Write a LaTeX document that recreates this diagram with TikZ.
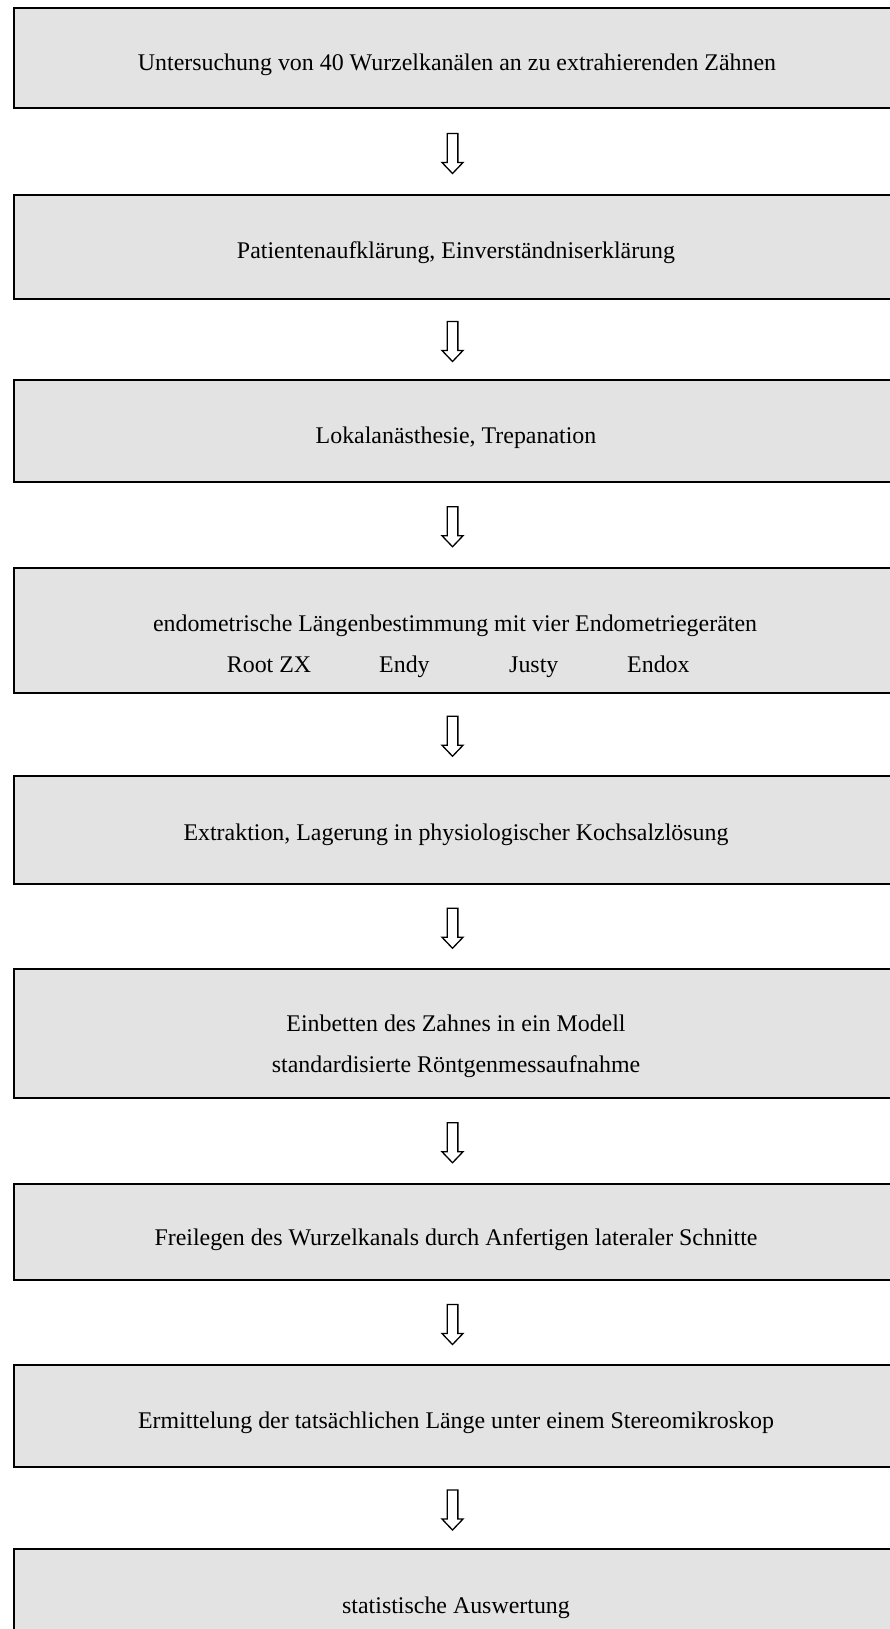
\documentclass[tikz,border=0pt]{standalone}
\usepackage{fontspec}
\setmainfont{Liberation Serif}
\usetikzlibrary{calc}
\definecolor{boxfill}{RGB}{227,227,227}
\tikzset{
  stepbox/.style={draw=black, line width=2pt, fill=boxfill, minimum width=880pt, inner sep=0pt, anchor=north west},
  lbl/.style={font=\fontsize{23.9pt}{28pt}\selectfont, anchor=base, inner sep=0pt},
  lblw/.style={lbl, anchor=base west},
  hollowarrow/.pic={\draw[line width=1.3pt, fill=white, line join=miter] (-5.35,-20) -- (5.35,-20) -- (5.35,9) -- (10.5,9) -- (0,20) -- (-10.5,9) -- (-5.35,9) -- cycle;}
}
\begin{document}
\begin{tikzpicture}[x=1pt,y=-1pt]
\useasboundingbox (0,0) rectangle (890,1629);
\clip (0,0) rectangle (890,1629);
\fill[white] (0,0) rectangle (890,1629);
% boxes
\node[stepbox, minimum height=100pt] (b1) at (12.5,7) {};
\node[stepbox, minimum height=104pt] (b2) at (12.5,194) {};
\node[stepbox, minimum height=102pt] (b3) at (12.5,379) {};
\node[stepbox, minimum height=125pt] (b4) at (12.5,566.5) {};
\node[stepbox, minimum height=108pt] (b5) at (12.5,775) {};
\node[stepbox, minimum height=129pt] (b6) at (12.5,967.5) {};
\node[stepbox, minimum height=96pt]  (b7) at (12.5,1183) {};
\node[stepbox, minimum height=102pt] (b8) at (12.5,1364) {};
\node[stepbox, minimum height=112pt] (b9) at (12.5,1548) {};
% texts
\node[lbl] (t1) at (457,70.7) {Untersuchung von 40 Wurzelkanälen an zu extrahierenden Zähnen};
\node[lbl] (t2) at (456,258.5) {Patientenaufklärung, Einverständniserklärung};
\node[lbl] (t3) at (456,443) {Lokalanästhesie, Trepanation};
\node[lbl] (t4a) at (455,631) {endometrische Längenbestimmung mit vier Endometriegeräten};
\node[lblw] (t4b) at (226.7,672) {Root ZX};
\node[lblw] (t4c) at (379,672) {Endy};
\node[lblw] (t4d) at (509,672) {Justy};
\node[lblw] (t4e) at (627,672) {Endox};
\node[lbl] (t5) at (456,840) {Extraktion, Lagerung in physiologischer Kochsalzlösung};
\node[lbl] (t6a) at (456,1031.5) {Einbetten des Zahnes in ein Modell};
\node[lbl] (t6b) at (456,1072) {standardisierte Röntgenmessaufnahme};
\node[lbl] (t7) at (456,1245) {Freilegen des Wurzelkanals durch Anfertigen lateraler Schnitte};
\node[lbl] (t8) at (456,1428) {Ermittelung der tatsächlichen Länge unter einem Stereomikroskop};
\node[lbl] (t9) at (456,1613) {statistische Auswertung};
% arrows
\pic at ($(b1.south)!0.5!(b2.north)+(-1,2)$) {hollowarrow};
\pic at ($(b2.south)!0.5!(b3.north)+(-1,2)$) {hollowarrow};
\pic at ($(b3.south)!0.5!(b4.north)+(-1,2)$) {hollowarrow};
\pic at ($(b4.south)!0.5!(b5.north)+(-1,2)$) {hollowarrow};
\pic at ($(b5.south)!0.5!(b6.north)+(-1,2)$) {hollowarrow};
\pic at ($(b6.south)!0.5!(b7.north)+(-1,2)$) {hollowarrow};
\pic at ($(b7.south)!0.5!(b8.north)+(-1,2)$) {hollowarrow};
\pic at ($(b8.south)!0.5!(b9.north)+(-1,2)$) {hollowarrow};
\end{tikzpicture}
\end{document}
